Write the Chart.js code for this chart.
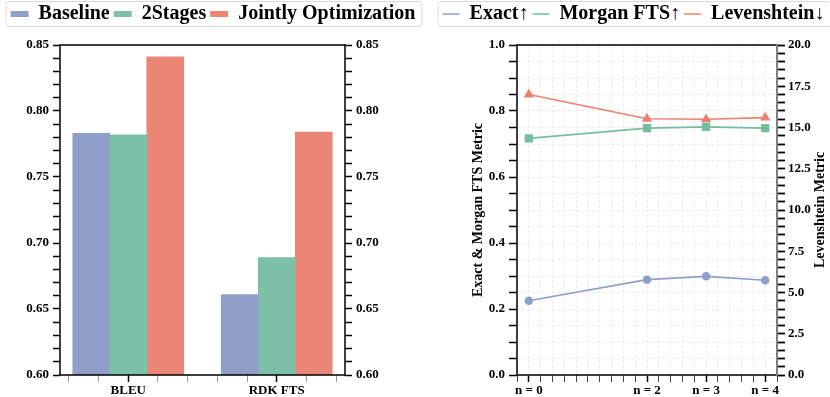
<!DOCTYPE html>
<html>
<head>
<meta charset="utf-8">
<script src="https://cdn.jsdelivr.net/npm/chart.js@4.4.0/dist/chart.umd.min.js"></script>
<style>
  body { margin: 0; background: #fff; }
  #wrap { position: relative; width: 830px; height: 397px; }
  canvas { position: absolute; top: 0; }
</style>
</head>
<body>
<div id="wrap">
  <canvas id="barChart" width="426" height="397" style="left:0"></canvas>
  <canvas id="lineChart" width="404" height="397" style="left:426px"></canvas>
</div>
<script>
// left panel: bars
const categories = ['BLEU', 'RDK FTS'];
const baseline = [0.783, 0.661];
const twoStages = [0.782, 0.689];
const jointly = [0.841, 0.784];

// right panel: lines
const nSteps = [0, 2, 3, 4];
const nLabels = ['n = 0', 'n = 2', 'n = 3', 'n = 4'];
const exact = [0.225, 0.289, 0.299, 0.287];
const morgan = [0.717, 0.748, 0.752, 0.748];
const levenshtein = [17.0, 15.53, 15.5, 15.6];

const serif = 'Liberation Serif';
Chart.defaults.font.family = serif;
Chart.defaults.color = '#000';
const tickFont = { family: serif, size: 13, weight: 'bold' };
const legendFont = { family: serif, size: 20, weight: 'bold' };

function ticksFrom(start, count, step) {
  const out = [];
  for (let i = 0; i <= count; i++) out.push(+(start + i * step).toFixed(4));
  return out;
}
const setTicks = vals => scale => { scale.ticks = vals.map(v => ({ value: v })); };
const fixWidth = w => scale => { scale.width = w; };
const fixHeight = h => scale => { scale.height = h; };

// legend: extra room below it + thin rounded frame round the items
function legendRoom(h) {
  return {
    id: 'legendRoom',
    beforeLayout(chart) {
      const lg = chart.legend;
      if (lg && !lg._roomPatched) {
        const fit = lg.fit;
        lg.fit = function () { fit.call(this); this.height = h; };
        lg._roomPatched = true;
      }
    },
    afterDraw(chart) {
      const hb = chart.legend.legendHitBoxes;
      if (!hb || !hb.length) return;
      const l = Math.min(...hb.map(b => b.left)) - 5;
      const r = Math.max(...hb.map(b => b.left + b.width)) + 6;
      const ctx = chart.ctx;
      ctx.save();
      ctx.strokeStyle = '#d9d9d9';
      ctx.lineWidth = 1;
      ctx.beginPath();
      ctx.roundRect(l + 0.5, 1.5, r - l, 25, 3);
      ctx.stroke();
      ctx.restore();
    }
  };
}

function frame(rightColor) {
  return {
    id: 'frame',
    afterDatasetsDraw(chart) {
      const { left, right, top, bottom } = chart.chartArea;
      const ctx = chart.ctx;
      ctx.save();
      ctx.lineWidth = 1.5;
      ctx.strokeStyle = '#000';
      ctx.beginPath();
      ctx.moveTo(right, top); ctx.lineTo(left, top);
      ctx.lineTo(left, bottom); ctx.lineTo(right, bottom);
      ctx.stroke();
      ctx.strokeStyle = rightColor;
      ctx.lineWidth = rightColor === '#000' ? 1.5 : 2;
      ctx.beginPath();
      ctx.moveTo(right, top - 0.75); ctx.lineTo(right, bottom + 0.75);
      ctx.stroke();
      ctx.restore();
    }
  };
}

// ---------- bar chart ----------
const barColors = ['#8f9fc8', '#7ebfa7', '#eb8576'];
const barSeries = [['Baseline', baseline], ['2Stages', twoStages], ['Jointly Optimization', jointly]];

new Chart(document.getElementById('barChart'), {
  type: 'bar',
  data: {
    datasets: barSeries.map(([name, vals], k) => ({
      label: name,
      data: vals.map((v, i) => ({ x: i, y: v })),
      backgroundColor: barColors[k],
      borderWidth: 0,
      barThickness: 37
    }))
  },
  options: {
    responsive: false,
    animation: false,
    devicePixelRatio: 1,
    layout: { padding: 0 },
    plugins: {
      tooltip: { enabled: false },
      legend: {
        position: 'top',
        labels: { font: legendFont, boxWidth: 18, boxHeight: 6, padding: 4, color: '#000' }
      }
    },
    scales: {
      x: {
        type: 'linear', min: -0.46, max: 1.46, offset: false,
        afterBuildTicks: setTicks(ticksFrom(-0.4, 9, 0.2)),
        afterFit: fixHeight(22),
        border: { display: false },
        grid: {
          offset: false, drawOnChartArea: false, drawTicks: true, tickLength: 7,
          tickColor: c => (c.tick && Number.isInteger(c.tick.value)) ? '#000' : '#999',
          tickWidth: c => (c.tick && Number.isInteger(c.tick.value)) ? 1.5 : 1
        },
        ticks: {
          autoSkip: false, maxRotation: 0, padding: 1, font: tickFont,
          callback: v => (Number.isInteger(v) && categories[v] !== undefined) ? categories[v] : ''
        }
      },
      y: {
        position: 'left', min: 0.6, max: 0.85,
        afterBuildTicks: setTicks(ticksFrom(0.6, 25, 0.01)),
        afterFit: fixWidth(60),
        border: { display: false },
        grid: { drawOnChartArea: false, tickLength: 7, tickColor: '#000', tickWidth: 1.5 },
        ticks: {
          autoSkip: false, padding: 4, font: tickFont,
          callback: v => Math.round(v * 100) % 5 === 0 ? v.toFixed(2) : ''
        }
      },
      y2: {
        position: 'right', min: 0.6, max: 0.85,
        afterBuildTicks: setTicks(ticksFrom(0.6, 25, 0.01)),
        afterFit: fixWidth(81),
        border: { display: false },
        grid: { drawOnChartArea: false, tickLength: 7, tickColor: '#000', tickWidth: 1.5 },
        ticks: {
          autoSkip: false, padding: 4, font: tickFont,
          callback: v => Math.round(v * 100) % 5 === 0 ? v.toFixed(2) : ''
        }
      }
    }
  },
  plugins: [legendRoom(45), frame('#000')]
});

// ---------- line chart ----------
const lineColors = ['#8e9fcb', '#76bd9f', '#ee8070'];
const lineSeries = [
  ['Exact\u2191', exact, 'circle', 3.5, 'y'],
  ['Morgan FTS\u2191', morgan, 'rect', 4.8, 'y'],
  ['Levenshtein\u2193', levenshtein, 'triangle', 4.5, 'y1']
];

const axisTitles = {
  id: 'axisTitles',
  afterDraw(chart) {
    const { top, bottom } = chart.chartArea;
    const cy = (top + bottom) / 2;
    const ctx = chart.ctx;
    ctx.save();
    ctx.font = 'bold 14px "Liberation Serif"';
    ctx.fillStyle = '#000';
    ctx.textAlign = 'center';
    ctx.textBaseline = 'middle';
    [[52, 'Exact & Morgan FTS Metric'], [394, 'Levenshtein Metric']].forEach(([x, t]) => {
      ctx.save();
      ctx.translate(x, cy);
      ctx.rotate(-Math.PI / 2);
      ctx.fillText(t, 0, 0);
      ctx.restore();
    });
    ctx.restore();
  }
};

const gridGray = '#ececec';

new Chart(document.getElementById('lineChart'), {
  type: 'line',
  data: {
    datasets: lineSeries.map(([name, vals, shape, r, axis], k) => ({
      label: name,
      data: vals.map((v, i) => ({ x: nSteps[i], y: v })),
      borderColor: lineColors[k],
      backgroundColor: lineColors[k],
      pointBackgroundColor: lineColors[k],
      pointBorderColor: lineColors[k],
      pointBorderWidth: 1.5,
      pointStyle: shape,
      pointRadius: r,
      borderWidth: 1.6,
      yAxisID: axis,
      tension: 0
    }))
  },
  options: {
    responsive: false,
    animation: false,
    devicePixelRatio: 1,
    layout: { padding: { left: 11, right: 0, top: 0, bottom: 0 } },
    plugins: {
      tooltip: { enabled: false },
      legend: {
        position: 'top',
        labels: {
          font: legendFont, usePointStyle: true, pointStyle: 'line',
          pointStyleWidth: 17, boxHeight: 6, padding: 4, color: '#000'
        }
      }
    },
    scales: {
      x: {
        type: 'linear', min: -0.2, max: 4.2, offset: false,
        afterBuildTicks: setTicks(ticksFrom(-0.2, 22, 0.2)),
        afterFit: fixHeight(22),
        border: { display: false, dash: [3, 2] },
        grid: {
          color: gridGray, lineWidth: 1, drawTicks: true, tickLength: 7,
          tickColor: c => (c.tick && nSteps.includes(c.tick.value)) ? '#000' : '#444',
          tickWidth: c => (c.tick && nSteps.includes(c.tick.value)) ? 1.5 : 1
        },
        ticks: {
          autoSkip: false, maxRotation: 0, padding: 1, font: tickFont,
          callback: v => { const i = nSteps.indexOf(v); return i >= 0 ? nLabels[i] : ''; }
        }
      },
      y: {
        position: 'left', min: 0, max: 1,
        afterBuildTicks: setTicks(ticksFrom(0, 20, 0.05)),
        afterFit: fixWidth(80),
        border: { display: false, dash: [3, 2] },
        grid: { color: gridGray, lineWidth: 1, tickLength: 8, tickColor: '#000', tickWidth: 1.5 },
        ticks: {
          autoSkip: false, padding: 4, font: tickFont,
          callback: v => Math.round(v * 100) % 20 === 0 ? v.toFixed(1) : ''
        }
      },
      y1: {
        position: 'right', min: 0, max: 20,
        afterBuildTicks: setTicks(ticksFrom(0, 40, 0.5)),
        afterFit: fixWidth(53),
        border: { display: false },
        grid: { drawOnChartArea: false, tickLength: 8, tickColor: '#000', tickWidth: 1.8 },
        ticks: {
          autoSkip: false, padding: 3, font: tickFont,
          callback: v => Math.round(v * 10) % 25 === 0 ? v.toFixed(1) : ''
        }
      }
    }
  },
  plugins: [legendRoom(45), frame('#808080'), axisTitles]
});
</script>
</body>
</html>
